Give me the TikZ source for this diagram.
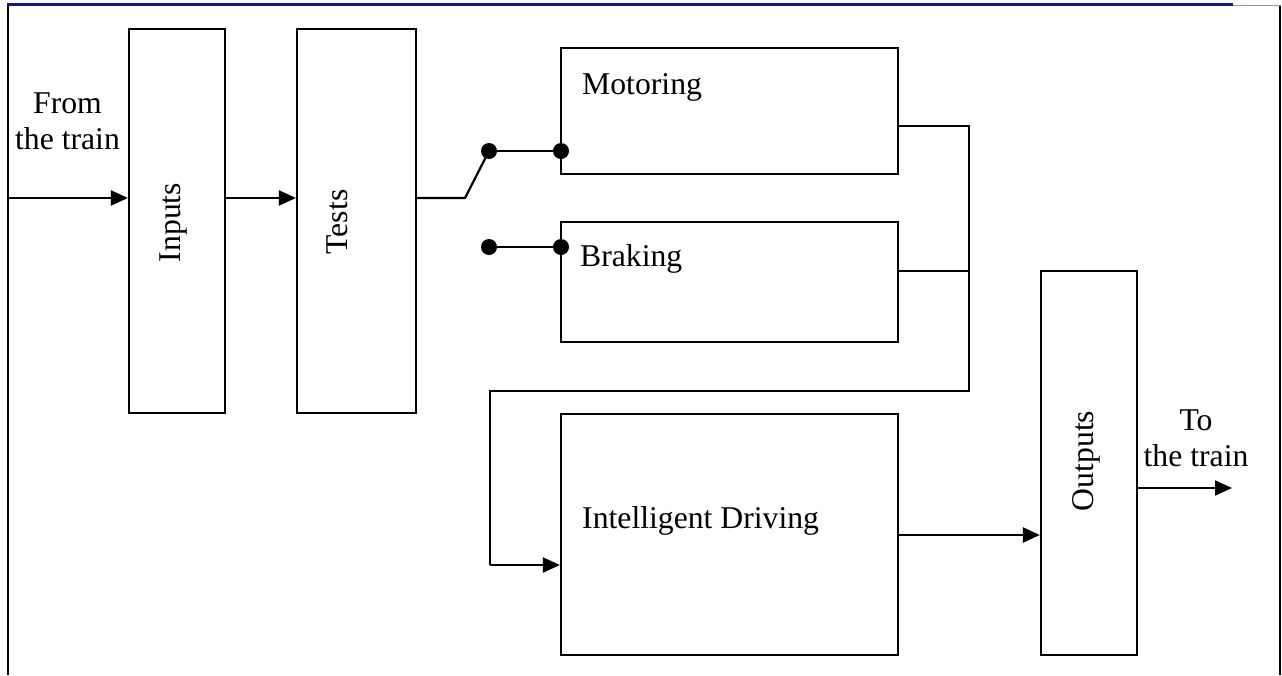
\documentclass[tikz,border=0pt]{standalone}
\usepackage{fontspec}
\setmainfont{Liberation Serif}
\usetikzlibrary{arrows.meta}
\definecolor{rulenavy}{RGB}{24,24,120}
\definecolor{rulegray}{RGB}{150,150,150}
\tikzset{
  block/.style={draw, line width=2.2pt, inner sep=0pt},
  wire/.style={line width=2.2pt},
  arr/.style={wire, -{Triangle[length=17pt,width=15pt]}},
  contact/.style={circle, fill, inner sep=0pt, minimum size=16pt},
  lbl/.style={inner sep=0pt, font=\fontsize{31.7}{36}\selectfont},
}
\begin{document}
\begin{tikzpicture}[x=1pt,y=-1pt]
\useasboundingbox (0,0) rectangle (1282,675);

% page frame
\draw[line width=1.6pt] (8,5) -- (8,675);
\draw[line width=1.6pt] (1280,5) -- (1280,675);
\draw[rulegray, line width=1pt] (1233,5) -- (1281,5);
\draw[rulenavy, line width=3pt] (7,4.5) -- (1233,4.5);

% blocks
\node[block, minimum width=96pt, minimum height=384pt] (inputs) at (177,221) {};
\node[block, minimum width=119pt, minimum height=384pt] (tests) at (356.5,221) {};
\node[block, minimum width=337pt, minimum height=126pt] (motor) at (729.5,111) {};
\node[block, minimum width=337pt, minimum height=120pt] (brake) at (729.5,282) {};
\node[block, minimum width=337pt, minimum height=241pt] (drive) at (729.5,534.5) {};
\node[block, minimum width=96pt, minimum height=384pt] (outputs) at (1089,463) {};

% block labels
\node[lbl, rotate=90, anchor=base] (tInputs) at (180,222.5) {Inputs};
\node[lbl, rotate=90, anchor=base] (tTests) at (347,222) {Tests};
\node[lbl, rotate=90, anchor=base] (tOutputs) at (1093,461) {Outputs};
\node[lbl, anchor=base west] (tMotor) at (582,94) {Motoring};
\node[lbl, anchor=base west] (tBrake) at (580,266) {Braking};
\node[lbl, anchor=base west] (tDrive) at (582,528) {Intelligent Driving};

% side texts
\node[lbl, anchor=base] (from1) at (67.5,113) {From};
\node[lbl, anchor=base] (from2) at (67.5,149) {the train};
\node[lbl, anchor=base] (to1) at (1196,430) {To};
\node[lbl, anchor=base] (to2) at (1196,466) {the train};

% signal path in
\coordinate (src) at (8,198);
\draw[arr] (src) -- (src -| inputs.west);
\draw[arr] (inputs.east |- src) -- (tests.west |- src);

% mode switch
\node[contact] (sw1) at (489,151) {};
\node[contact] (sw2) at (561,151) {};
\node[contact] (sw3) at (489,247) {};
\node[contact] (sw4) at (561,247) {};
\coordinate (pivot) at (465,198);
\draw[wire] (tests.east |- src) -- (pivot) -- (sw1.center);
\draw[wire] (sw1) -- (sw2);
\draw[wire] (sw3) -- (sw4);

% collector to intelligent driving
\coordinate (busTop) at (969,126);
\coordinate (busMid) at (969,271);
\coordinate (busBot) at (969,391);
\coordinate (loopL) at (490,391);
\coordinate (loopIn) at (490,565);
\draw[wire] (motor.east |- busTop) -- (busTop) -- (busBot) -- (loopL) -- (loopIn);
\draw[arr] (loopIn) -- (loopIn -| drive.west);
\draw[wire] (brake.east |- busMid) -- (busMid);

% outputs
\coordinate (drvOut) at (899,535);
\draw[arr] (drive.east |- drvOut) -- (outputs.west |- drvOut);
\coordinate (sink) at (1232,488);
\draw[arr] (outputs.east |- sink) -- (sink);
\end{tikzpicture}
\end{document}
